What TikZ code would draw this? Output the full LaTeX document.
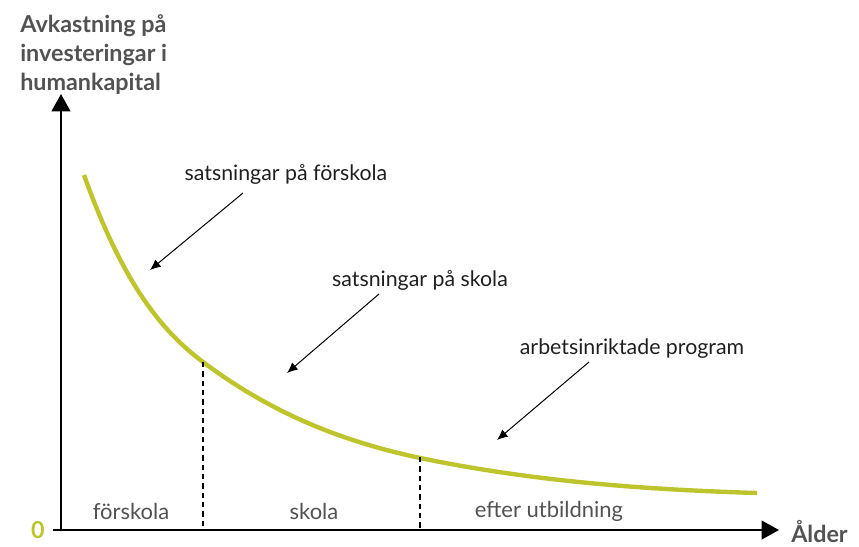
\documentclass[tikz,border=0pt]{standalone}
\usepackage{fontspec}
\setmainfont{Lato}
\usetikzlibrary{arrows.meta}
\tikzset{>=Latex}
\definecolor{kurvgron}{RGB}{190,196,44}
\definecolor{axelgra}{RGB}{82,82,82}
\tikzset{%
  axel/.style={line width=1.5pt, -{Triangle[length=13pt,width=14pt]}},
  pil/.style={line width=0.75pt, -{Latex[length=8pt,width=7pt]}},
  grans/.style={line width=2pt, dash pattern=on 4pt off 3pt},
  kommentar/.style={font=\fontsize{16}{18}\selectfont, text=black!88},
  period/.style={font=\fontsize{16.5}{18}\selectfont, text=axelgra},
  rubrik/.style={font=\bfseries\fontsize{17.5}{22}\selectfont, text=axelgra, align=left}
}

\begin{document}
\begin{tikzpicture}[x=0.75pt, y=-0.75pt]
  \useasboundingbox (0,0) rectangle (859,546);

  % axlar
  \coordinate (O) at (61,530);
  \coordinate (xstart) at (53,530);
  \coordinate (xslut) at (779,530);
  \coordinate (yslut) at (61,94);
  \draw[axel] (xstart) -- (xslut);
  \draw[axel] (O) -- (yslut);

  % axeltexter
  \node[rubrik, anchor=north west, inner sep=0pt] (yrubrik) at (20,14) {Avkastning på\\investeringar i\\humankapital};
  \node[rubrik, anchor=west, inner sep=0pt] (xrubrik) at (791,532) {Ålder};
  \node[rubrik, text=kurvgron, inner sep=0pt] (noll) at (38,530) {0};

  % kurvan (hermite-bitar)
  \coordinate (k0) at (84,175);
  \coordinate (k1) at (203,362);
  \coordinate (k2) at (430,460);
  \coordinate (k3) at (757,493);
  \draw[kurvgron, line width=3.3pt]
    (k0) .. controls (123.7,286) and (163.3,332.2) .. (k1)
         .. controls (278.7,418.8) and (354.3,444.9) .. (k2)
         .. controls (539,481.8) and (648,489.7) .. (k3);

  % gränser mellan perioderna
  \coordinate (g1bas) at (203,530);
  \coordinate (g2) at (420,457);
  \coordinate (g2bas) at (420,530);
  \draw[grans] (k1) -- (g1bas);
  \draw[grans] (g2) -- (g2bas);

  % perioder
  \node[period] (forskola) at (131,511) {förskola};
  \node[period] (skola) at (314,511) {skola};
  \node[period] (efter) at (549,511) {efter utbildning};

  % satsningar
  \node[kommentar] (sfsk) at (286,174) {satsningar på förskola};
  \node[kommentar] (ssk) at (420,280) {satsningar på skola};
  \node[kommentar] (arb) at (632,349) {arbetsinriktade program};

  \coordinate (sfskstart) at (243,193);
  \coordinate (sfskpil) at (150,270);
  \coordinate (sskstart) at (379,294);
  \coordinate (sskpil) at (287,373);
  \coordinate (arbstart) at (589,362);
  \coordinate (arbpil) at (497,440);
  \draw[pil] (sfskstart) -- (sfskpil);
  \draw[pil] (sskstart) -- (sskpil);
  \draw[pil] (arbstart) -- (arbpil);

\end{tikzpicture}
\end{document}
